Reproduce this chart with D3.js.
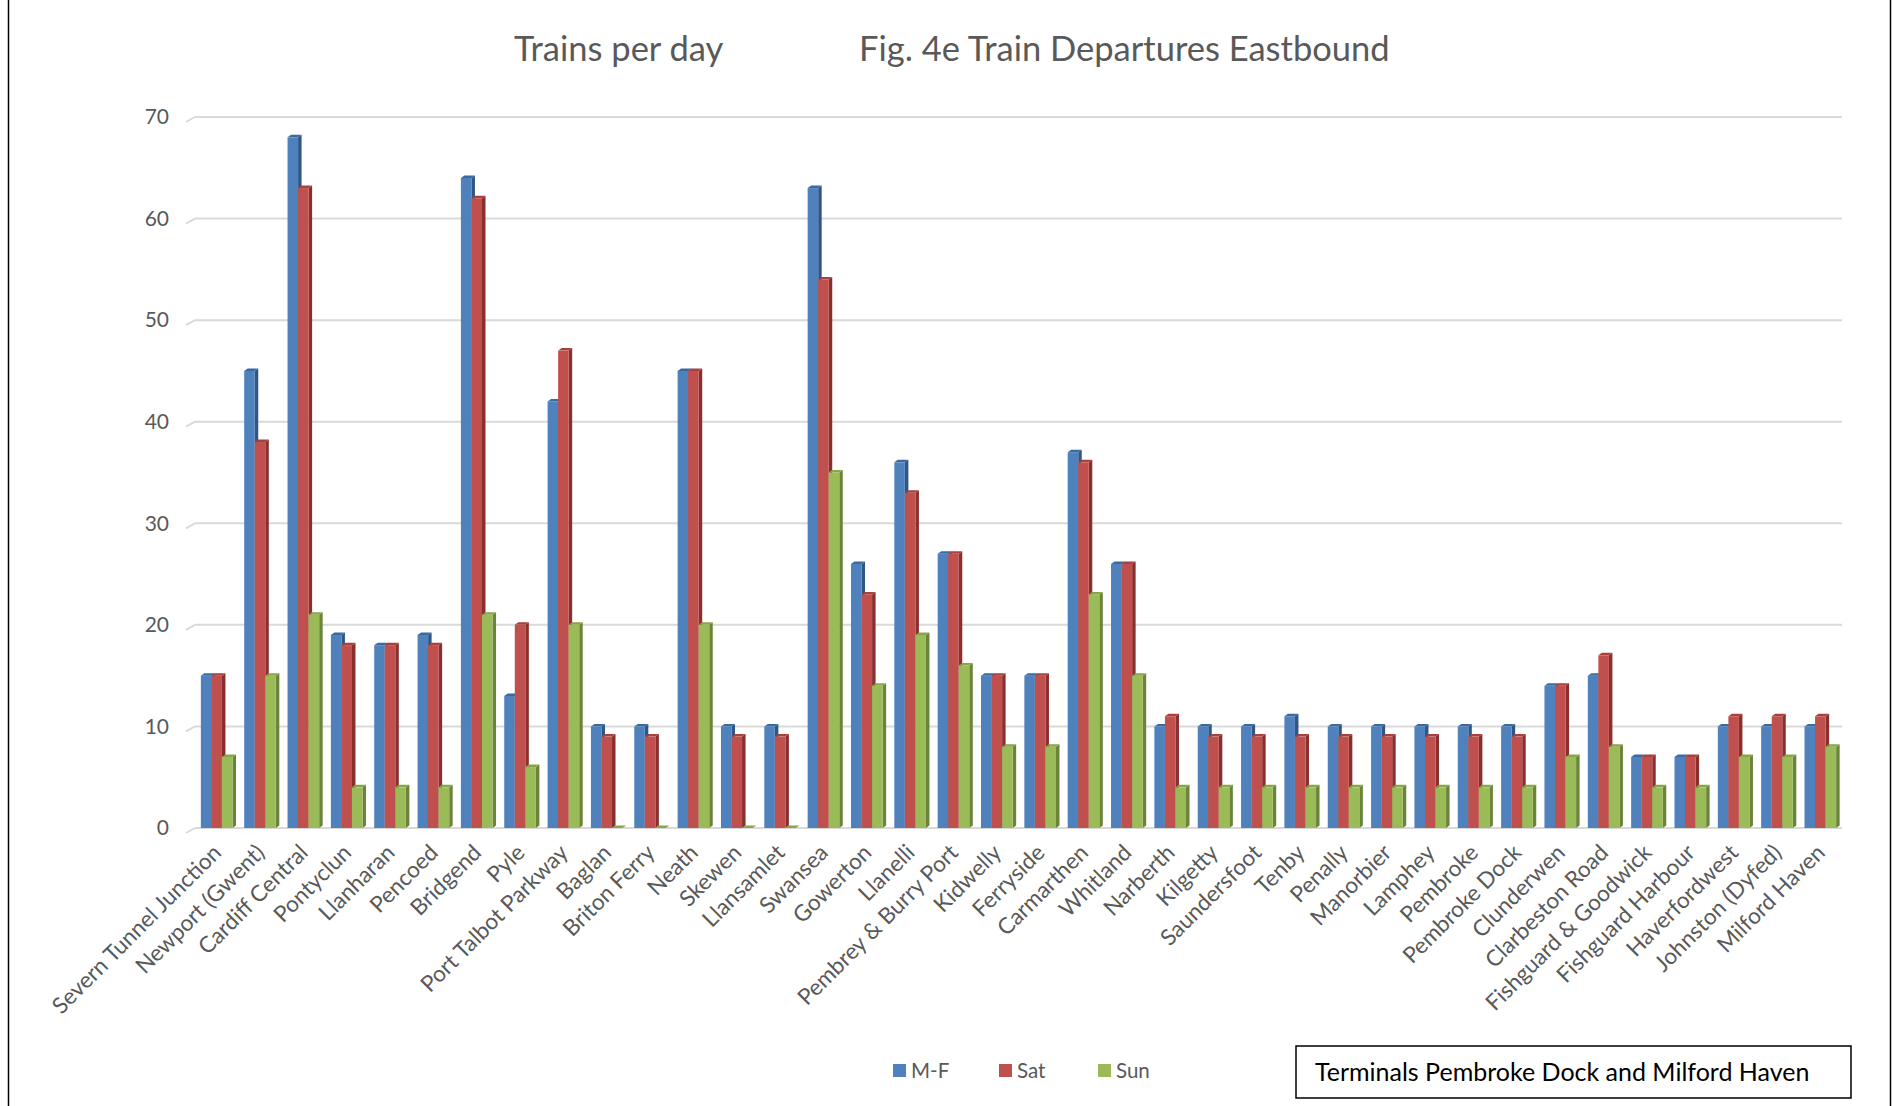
<!DOCTYPE html>
<html>
<head>
<meta charset="utf-8">
<script src="https://cdn.jsdelivr.net/npm/d3@7"></script>
<style>
  body { margin: 0; background: #fff; }
  svg { display: block; }
  text { font-family: Lato, "Open Sans", sans-serif; }
</style>
</head>
<body>
<svg id="chart" width="1892" height="1106"></svg>
<script>
// Stations on the eastbound route, west Wales to the Severn
const stations = [
  "Severn Tunnel Junction", "Newport (Gwent)", "Cardiff Central", "Pontyclun",
  "Llanharan", "Pencoed", "Bridgend", "Pyle", "Port Talbot Parkway", "Baglan",
  "Briton Ferry", "Neath", "Skewen", "Llansamlet", "Swansea", "Gowerton",
  "Llanelli", "Pembrey & Burry Port", "Kidwelly", "Ferryside", "Carmarthen",
  "Whitland", "Narberth", "Kilgetty", "Saundersfoot", "Tenby", "Penally",
  "Manorbier", "Lamphey", "Pembroke", "Pembroke Dock", "Clunderwen",
  "Clarbeston Road", "Fishguard & Goodwick", "Fishguard Harbour",
  "Haverfordwest", "Johnston (Dyfed)", "Milford Haven"
];

// Departures per day
const monFri = [15, 45, 68, 19, 18, 19, 64, 13, 42, 10, 10, 45, 10, 10, 63, 26, 36, 27, 15, 15, 37, 26, 10, 10, 10, 11, 10, 10, 10, 10, 10, 14, 15, 7, 7, 10, 10, 10];
const saturday = [15, 38, 63, 18, 18, 18, 62, 20, 47, 9, 9, 45, 9, 9, 54, 23, 33, 27, 15, 15, 36, 26, 11, 9, 9, 9, 9, 9, 9, 9, 9, 14, 17, 7, 7, 11, 11, 11];
const sunday = [7, 15, 21, 4, 4, 4, 21, 6, 20, 0, 0, 20, 0, 0, 35, 14, 19, 16, 8, 8, 23, 15, 4, 4, 4, 4, 4, 4, 4, 4, 4, 7, 8, 4, 4, 7, 7, 8];

const seriesNames = ["M-F", "Sat", "Sun"];
const seriesValues = [monFri, saturday, sunday];
const yTicks = [0, 10, 20, 30, 40, 50, 60, 70];

const titleLeft = "Trains per day";
const titleRight = "Fig. 4e Train Departures Eastbound";
const noteText = "Terminals Pembroke Dock and Milford Haven";

// Face colours: front, side, top
const palette = [
  { front: "#4F81BD", side: "#2F5684", top: "#3B6AA3" },
  { front: "#C0504D", side: "#8A2F2D", top: "#A8403D" },
  { front: "#9BBB59", side: "#6B843A", top: "#86A649" }
];

const svg = d3.select("#chart");
const W = 1892, H = 1106;
const plot = { left: 195, right: 1842, top: 117, bottom: 828 };
const depthX = 3.5, depthY = 2.5;

const x0 = d3.scaleBand()
  .domain(stations)
  .range([plot.left, plot.right])
  .paddingInner(0.27)
  .paddingOuter(0.135);

const x1 = d3.scaleBand()
  .domain(seriesNames)
  .range([0, x0.bandwidth()]);

const y = d3.scaleLinear()
  .domain([0, 70])
  .range([plot.bottom, plot.top]);

// Chart frame edges
svg.append("line").attr("x1", 8.5).attr("x2", 8.5).attr("y1", 0).attr("y2", H)
  .attr("stroke", "#000").attr("stroke-width", 1.5);
svg.append("line").attr("x1", 1890.5).attr("x2", 1890.5).attr("y1", 0).attr("y2", H)
  .attr("stroke", "#000").attr("stroke-width", 1.5);

// Gridlines on the back wall, with a short floor stub on the left
const grid = svg.append("g");
yTicks.forEach(t => {
  const yy = y(t);
  grid.append("line")
    .attr("x1", plot.left).attr("x2", plot.right)
    .attr("y1", yy).attr("y2", yy)
    .attr("stroke", "#d9d9d9").attr("stroke-width", 2);
  grid.append("line")
    .attr("x1", plot.left - 9).attr("y1", yy + 5)
    .attr("x2", plot.left).attr("y2", yy)
    .attr("stroke", "#d9d9d9").attr("stroke-width", 2);
});

// Y axis labels
const yAxis = d3.axisLeft(y).tickValues(yTicks).tickSize(0).tickPadding(0);
const yG = svg.append("g")
  .attr("transform", `translate(${169},0)`)
  .call(yAxis);
yG.select(".domain").remove();
yG.selectAll("text")
  .attr("fill", "#595959")
  .style("font-size", "21px")
  .style("font-family", "Lato, sans-serif");

// 3D-style bars
const bars = svg.append("g");
stations.forEach((st, i) => {
  seriesNames.forEach((s, k) => {
    const v = seriesValues[k][i];
    const bx = x0(st) + x1(s);
    const bw = x1.bandwidth();
    const yt = y(v);
    const yb = y(0);
    const c = palette[k];
    bars.append("polygon")
      .attr("points", [[bx + bw, yt], [bx + bw + depthX, yt - depthY], [bx + bw + depthX, yb - depthY], [bx + bw, yb]].map(p => p.join(",")).join(" "))
      .attr("fill", c.side);
    bars.append("polygon")
      .attr("points", [[bx, yt], [bx + depthX, yt - depthY], [bx + bw + depthX, yt - depthY], [bx + bw, yt]].map(p => p.join(",")).join(" "))
      .attr("fill", c.top);
    bars.append("rect")
      .attr("x", bx).attr("y", yt)
      .attr("width", bw).attr("height", Math.max(0, yb - yt))
      .attr("fill", c.front);
  });
});

// Category labels, rotated
const xAxis = d3.axisBottom(x0).tickSize(0).tickPadding(0);
const xG = svg.append("g")
  .attr("transform", `translate(0,${plot.bottom})`)
  .call(xAxis);
xG.select(".domain").remove();
xG.selectAll(".tick text")
  .attr("fill", "#595959")
  .style("font-size", "22.5px")
  .style("font-family", "Lato, sans-serif")
  .attr("text-anchor", "end")
  .attr("dy", null)
  .attr("y", null)
  .attr("transform", "translate(6,26) rotate(-45)");

// Titles
svg.append("text").attr("x", 514).attr("y", 61)
  .attr("fill", "#595959").style("font-size", "34.5px").text(titleLeft);
svg.append("text").attr("x", 859).attr("y", 61)
  .attr("fill", "#595959").style("font-size", "34.5px").text(titleRight);

// Legend
const legendX = [893, 999, 1098];
const legend = svg.append("g");
seriesNames.forEach((s, k) => {
  legend.append("rect")
    .attr("x", legendX[k]).attr("y", 1064)
    .attr("width", 13).attr("height", 13)
    .attr("fill", palette[k].front);
  legend.append("text")
    .attr("x", legendX[k] + 18).attr("y", 1078)
    .attr("fill", "#595959").style("font-size", "20.5px")
    .text(s);
});

// Note box
svg.append("rect")
  .attr("x", 1296).attr("y", 1046)
  .attr("width", 555).attr("height", 52)
  .attr("fill", "#fff").attr("stroke", "#000").attr("stroke-width", 1.5);
svg.append("text")
  .attr("x", 1315).attr("y", 1081)
  .attr("fill", "#000").style("font-size", "25px")
  .text(noteText);
</script>
</body>
</html>
